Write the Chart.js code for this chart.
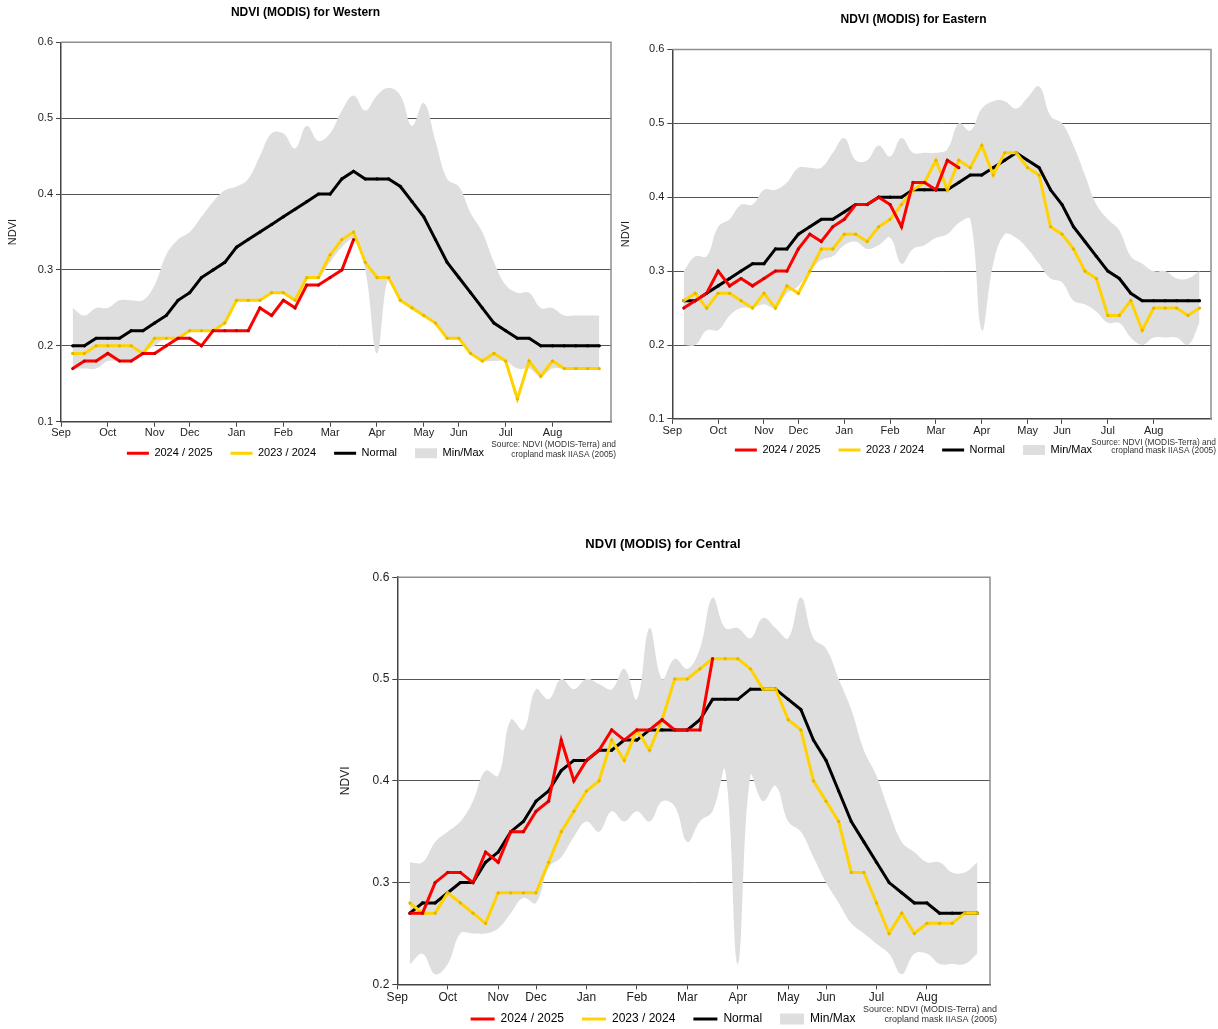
<!DOCTYPE html>
<html>
<head>
<meta charset="utf-8">
<title>NDVI (MODIS)</title>
<script src="https://cdn.jsdelivr.net/npm/chart.js@4.4.1/dist/chart.umd.min.js"></script>
<style>
  html, body { margin: 0; padding: 0; background: #fff; overflow: hidden; }
  #page { position: relative; width: 1218px; height: 1029px; overflow: hidden; }
  canvas { position: absolute; }
</style>
</head>
<body>
<div id="page">
  <canvas id="western" width="620" height="483" style="left:0;top:0"></canvas>
  <canvas id="eastern" width="602" height="480" style="left:616px;top:0"></canvas>
  <canvas id="central" width="664" height="529" style="left:336px;top:520px"></canvas>
</div>
<script>
/* global Chart */

// x axis: 8-day MODIS composites, Sep -> Aug (46 per season)
const monthLabels = ['Sep', 'Oct', 'Nov', 'Dec', 'Jan', 'Feb', 'Mar', 'Apr', 'May', 'Jun', 'Jul', 'Aug'];
const monthTicks = [0, 4, 8, 11, 15, 19, 23, 27, 31, 34, 38, 42];
const seriesLabels = ['2024 / 2025', '2023 / 2024', 'Normal', 'Min/Max'];
const sourceLines = ['Source: NDVI (MODIS-Terra) and', 'cropland mask IIASA (2005)'];

const westernNow = [0.17, 0.18, 0.18, 0.19, 0.18, 0.18, 0.19, 0.19, 0.20, 0.21, 0.21, 0.20, 0.22, 0.22, 0.22, 0.22,
  0.25, 0.24, 0.26, 0.25, 0.28, 0.28, 0.29, 0.30, 0.34];
const westernPrev = [0.19, 0.19, 0.20, 0.20, 0.20, 0.20, 0.19, 0.21, 0.21, 0.21, 0.22, 0.22, 0.22, 0.23, 0.26, 0.26,
  0.26, 0.27, 0.27, 0.26, 0.29, 0.29, 0.32, 0.34, 0.35, 0.31, 0.29, 0.29, 0.26, 0.25, 0.24, 0.23, 0.21, 0.21, 0.19,
  0.18, 0.19, 0.18, 0.13, 0.18, 0.16, 0.18, 0.17, 0.17, 0.17, 0.17];
const westernNormal = [0.20, 0.20, 0.21, 0.21, 0.21, 0.22, 0.22, 0.23, 0.24, 0.26, 0.27, 0.29, 0.30, 0.31, 0.33, 0.34,
  0.35, 0.36, 0.37, 0.38, 0.39, 0.40, 0.40, 0.42, 0.43, 0.42, 0.42, 0.42, 0.41, 0.39, 0.37, 0.34, 0.31, 0.29, 0.27,
  0.25, 0.23, 0.22, 0.21, 0.21, 0.20, 0.20, 0.20, 0.20, 0.20, 0.20];
const westernMax = [0.25, 0.24, 0.25, 0.25, 0.26, 0.26, 0.26, 0.28, 0.32, 0.34, 0.35, 0.37, 0.39, 0.405, 0.41, 0.42,
  0.45, 0.48, 0.48, 0.46, 0.49, 0.47, 0.48, 0.51, 0.53, 0.51, 0.53, 0.54, 0.53, 0.49, 0.52, 0.47, 0.42, 0.41, 0.375,
  0.35, 0.31, 0.28, 0.27, 0.27, 0.25, 0.25, 0.24, 0.24, 0.24, 0.24];
const westernMin = [0.17, 0.17, 0.17, 0.18, 0.18, 0.18, 0.19, 0.20, 0.21, 0.21, 0.22, 0.22, 0.22, 0.23, 0.26, 0.26,
  0.26, 0.27, 0.27, 0.26, 0.29, 0.29, 0.31, 0.33, 0.34, 0.30, 0.19, 0.29, 0.26, 0.25, 0.24, 0.23, 0.21, 0.21, 0.19,
  0.18, 0.18, 0.18, 0.17, 0.17, 0.16, 0.17, 0.17, 0.17, 0.17, 0.17];

const easternNow = [0.25, 0.26, 0.27, 0.30, 0.28, 0.29, 0.28, 0.29, 0.30, 0.30, 0.33, 0.35, 0.34, 0.36, 0.37, 0.39,
  0.39, 0.40, 0.39, 0.36, 0.42, 0.42, 0.41, 0.45, 0.44];
const easternPrev = [0.26, 0.27, 0.25, 0.27, 0.27, 0.26, 0.25, 0.27, 0.25, 0.28, 0.27, 0.30, 0.33, 0.33, 0.35, 0.35,
  0.34, 0.36, 0.37, 0.39, 0.41, 0.42, 0.45, 0.41, 0.45, 0.44, 0.47, 0.43, 0.46, 0.46, 0.44, 0.43, 0.36, 0.35, 0.33,
  0.30, 0.29, 0.24, 0.24, 0.26, 0.22, 0.25, 0.25, 0.25, 0.24, 0.25];
const easternNormal = [0.26, 0.26, 0.27, 0.28, 0.29, 0.30, 0.31, 0.31, 0.33, 0.33, 0.35, 0.36, 0.37, 0.37, 0.38, 0.39,
  0.39, 0.40, 0.40, 0.40, 0.41, 0.41, 0.41, 0.41, 0.42, 0.43, 0.43, 0.44, 0.45, 0.46, 0.45, 0.44, 0.41, 0.39, 0.36,
  0.34, 0.32, 0.30, 0.29, 0.27, 0.26, 0.26, 0.26, 0.26, 0.26, 0.26];
const easternMax = [0.30, 0.32, 0.32, 0.36, 0.37, 0.39, 0.39, 0.41, 0.41, 0.42, 0.44, 0.44, 0.44, 0.46, 0.48, 0.45,
  0.45, 0.47, 0.455, 0.48, 0.46, 0.46, 0.46, 0.465, 0.50, 0.49, 0.52, 0.53, 0.53, 0.52, 0.535, 0.55, 0.51, 0.50, 0.47,
  0.43, 0.39, 0.37, 0.355, 0.32, 0.31, 0.30, 0.30, 0.29, 0.29, 0.30];
const easternMin = [0.20, 0.20, 0.22, 0.22, 0.24, 0.25, 0.25, 0.255, 0.25, 0.27, 0.28, 0.30, 0.315, 0.32, 0.335, 0.34,
  0.33, 0.335, 0.345, 0.31, 0.33, 0.335, 0.345, 0.35, 0.365, 0.37, 0.22, 0.31, 0.35, 0.345, 0.33, 0.31, 0.29, 0.285,
  0.26, 0.255, 0.245, 0.23, 0.23, 0.21, 0.20, 0.21, 0.21, 0.21, 0.20, 0.23];

const centralNow = [0.27, 0.27, 0.30, 0.31, 0.31, 0.30, 0.33, 0.32, 0.35, 0.35, 0.37, 0.38, 0.44, 0.40, 0.42, 0.43,
  0.45, 0.44, 0.45, 0.45, 0.46, 0.45, 0.45, 0.45, 0.52];
const centralPrev = [0.28, 0.27, 0.27, 0.29, 0.28, 0.27, 0.26, 0.29, 0.29, 0.29, 0.29, 0.32, 0.35, 0.37, 0.39, 0.40,
  0.44, 0.42, 0.45, 0.43, 0.46, 0.50, 0.50, 0.51, 0.52, 0.52, 0.52, 0.51, 0.49, 0.49, 0.46, 0.45, 0.40, 0.38, 0.36,
  0.31, 0.31, 0.28, 0.25, 0.27, 0.25, 0.26, 0.26, 0.26, 0.27, 0.27];
const centralNormal = [0.27, 0.28, 0.28, 0.29, 0.30, 0.30, 0.32, 0.33, 0.35, 0.36, 0.38, 0.39, 0.41, 0.42, 0.42, 0.43,
  0.43, 0.44, 0.44, 0.45, 0.45, 0.45, 0.45, 0.46, 0.48, 0.48, 0.48, 0.49, 0.49, 0.49, 0.48, 0.47, 0.44, 0.42, 0.39,
  0.36, 0.34, 0.32, 0.30, 0.29, 0.28, 0.28, 0.27, 0.27, 0.27, 0.27];
const centralMax = [0.32, 0.32, 0.34, 0.35, 0.36, 0.38, 0.41, 0.405, 0.46, 0.45, 0.49, 0.48, 0.50, 0.49, 0.50, 0.495,
  0.49, 0.51, 0.48, 0.55, 0.50, 0.52, 0.51, 0.53, 0.58, 0.55, 0.55, 0.54, 0.56, 0.55, 0.54, 0.58, 0.54, 0.53, 0.50,
  0.47, 0.43, 0.405, 0.37, 0.34, 0.33, 0.32, 0.32, 0.31, 0.31, 0.32];
const centralMin = [0.22, 0.23, 0.21, 0.22, 0.25, 0.25, 0.25, 0.255, 0.27, 0.285, 0.28, 0.315, 0.325, 0.345, 0.36,
  0.35, 0.37, 0.36, 0.37, 0.36, 0.38, 0.375, 0.34, 0.36, 0.37, 0.41, 0.22, 0.405, 0.38, 0.395, 0.36, 0.35, 0.325,
  0.30, 0.28, 0.26, 0.25, 0.24, 0.23, 0.21, 0.23, 0.23, 0.22, 0.22, 0.22, 0.23];

const colors = {
  now: '#ff0000',
  prev: '#ffd200',
  normal: '#000000',
  band: '#dedede',
};

Chart.defaults.font.family = "'Liberation Sans', Arial, sans-serif";
Chart.defaults.color = '#222';

function toPoints(values) {
  return values.map((v, i) => ({ x: i + 1, y: v }));
}

// grey top/right edges of the plot box
const plotFrame = {
  id: 'plotFrame',
  afterDatasetsDraw(chart) {
    const { ctx, chartArea } = chart;
    ctx.save();
    ctx.strokeStyle = '#8e8e8e';
    ctx.lineWidth = 1.5;
    ctx.beginPath();
    ctx.moveTo(chartArea.left, chartArea.top);
    ctx.lineTo(chartArea.right, chartArea.top);
    ctx.lineTo(chartArea.right, chartArea.bottom);
    ctx.stroke();
    ctx.restore();
  },
};

// pull the legend row up close under the month labels
const legendOffset = {
  id: 'legendOffset',
  afterLayout(chart, args, opts) {
    const { legend, chartArea } = chart;
    const h = legend.height;
    legend.top = chartArea.bottom + opts.offset;
    legend.bottom = legend.top + h;
  },
};

// small source note under the right end of the x axis
const sourceNote = {
  id: 'sourceNote',
  afterDraw(chart, args, opts) {
    const { ctx, chartArea } = chart;
    ctx.save();
    ctx.font = `${opts.size}px 'Liberation Sans', Arial, sans-serif`;
    ctx.fillStyle = '#333';
    ctx.textAlign = 'right';
    ctx.textBaseline = 'middle';
    sourceLines.forEach((line, i) => {
      ctx.fillText(line, chartArea.right + opts.dx, chartArea.bottom + opts.dy[i]);
    });
    ctx.restore();
  },
};

function legendItems() {
  return [
    { text: seriesLabels[0], pointStyle: 'line', strokeStyle: colors.now, fillStyle: colors.now, lineWidth: 3, datasetIndex: 0 },
    { text: seriesLabels[1], pointStyle: 'line', strokeStyle: colors.prev, fillStyle: colors.prev, lineWidth: 3, datasetIndex: 1 },
    { text: seriesLabels[2], pointStyle: 'line', strokeStyle: colors.normal, fillStyle: colors.normal, lineWidth: 3, datasetIndex: 2 },
    { text: seriesLabels[3], pointStyle: 'rect', strokeStyle: colors.band, fillStyle: colors.band, lineWidth: 0, datasetIndex: 3 },
  ];
}

function ndviChart(id, cfg) {
  const fs = cfg.fontSize;
  const line = (label, data, color, dot) => ({
    label,
    data: toPoints(data),
    borderColor: color,
    backgroundColor: color,
    borderWidth: 3,
    pointRadius: 1.6,
    pointBorderWidth: 0,
    pointBackgroundColor: dot,
    tension: 0,
    fill: false,
  });

  const config = {
    type: 'line',
    data: {
      datasets: [
        line(seriesLabels[0], cfg.now, colors.now, '#c40000'),
        line(seriesLabels[1], cfg.prev, colors.prev, '#e2b600'),
        line(seriesLabels[2], cfg.normal, colors.normal, '#000'),
        {
          label: 'Max', data: toPoints(cfg.max), borderWidth: 0, pointRadius: 0,
          backgroundColor: colors.band, fill: '+1', tension: 0.4,
        },
        {
          label: 'Min', data: toPoints(cfg.min), borderWidth: 0, pointRadius: 0,
          fill: false, tension: 0.4,
        },
      ],
    },
    options: {
      responsive: false,
      animation: false,
      events: [],
      layout: { padding: cfg.padding },
      plugins: {
        title: {
          display: true,
          text: cfg.title,
          color: '#000',
          font: { size: cfg.titleSize, weight: 'bold' },
          padding: cfg.titlePadding,
        },
        legend: {
          position: 'bottom',
          labels: {
            usePointStyle: true,
            pointStyleWidth: cfg.boxWidth,
            boxHeight: cfg.boxHeight,
            padding: 18,
            color: '#222',
            font: { size: fs },
            generateLabels: legendItems,
          },
        },
        tooltip: { enabled: false },
        legendOffset: { offset: cfg.legendOffset },
        sourceNote: cfg.source,
      },
      scales: {
        x: {
          type: 'linear',
          min: 0,
          max: 47,
          afterBuildTicks: (scale) => { scale.ticks = monthTicks.map((value) => ({ value })); },
          afterFit: (scale) => { scale.height = cfg.xAxisHeight; },
          ticks: {
            autoSkip: false,
            maxRotation: 0,
            padding: cfg.xTickPad,
            font: { size: fs },
            callback: (value) => monthLabels[monthTicks.indexOf(value)],
          },
          grid: { drawOnChartArea: false, tickLength: 5, tickColor: '#444' },
          border: { color: '#444', width: 1.5 },
        },
        y: {
          min: cfg.yMin,
          max: 0.6,
          afterFit: (scale) => { scale.width = cfg.yAxisWidth; },
          ticks: {
            stepSize: 0.1,
            padding: 3,
            font: { size: fs },
            callback: (value) => value.toFixed(1),
          },
          grid: {
            color: (c) => (c.tick && c.tick.value > 0.59 ? 'rgba(0,0,0,0)' : '#555'),
            tickLength: 5,
            tickColor: '#444',
          },
          border: { color: '#444', width: 1.5 },
          title: {
            display: true,
            text: 'NDVI',
            color: '#222',
            font: { size: fs },
            padding: { top: cfg.yTitlePad, bottom: 0 },
          },
        },
      },
    },
    plugins: [plotFrame, legendOffset, sourceNote],
  };

  return new Chart(document.getElementById(id), config);
}

function initialize() {
  ndviChart('western', {
    title: 'NDVI (MODIS) for Western',
    now: westernNow, prev: westernPrev, normal: westernNormal, max: westernMax, min: westernMin,
    yMin: 0.1,
    fontSize: 11, titleSize: 12, boxWidth: 22, boxHeight: 10,
    padding: { left: 0, right: 9, top: 0, bottom: 0.3 },
    titlePadding: { top: 5.1, bottom: 22.8 },
    yAxisWidth: 61, yTitlePad: 6.7, xAxisHeight: 22, xTickPad: 0,
    legendOffset: 8.1,
    source: { size: 8.4, dx: 5, dy: [23.3, 32.6] },
  });
  ndviChart('eastern', {
    title: 'NDVI (MODIS) for Eastern',
    now: easternNow, prev: easternPrev, normal: easternNormal, max: easternMax, min: easternMin,
    yMin: 0.1,
    fontSize: 11, titleSize: 12, boxWidth: 22, boxHeight: 10,
    padding: { left: 0, right: 7, top: 0, bottom: 0.1 },
    titlePadding: { top: 12.1, bottom: 22.9 },
    yAxisWidth: 56.3, yTitlePad: 3.4, xAxisHeight: 22, xTickPad: 0.5,
    legendOffset: 7.6,
    source: { size: 8.4, dx: 5, dy: [23.4, 32.1] },
  });
  ndviChart('central', {
    title: 'NDVI (MODIS) for Central',
    now: centralNow, prev: centralPrev, normal: centralNormal, max: centralMax, min: centralMin,
    yMin: 0.2,
    fontSize: 12, titleSize: 13, boxWidth: 24, boxHeight: 11,
    padding: { left: 0, right: 10, top: 0, bottom: 0.6 },
    titlePadding: { top: 16.5, bottom: 25.1 },
    yAxisWidth: 61.3, yTitlePad: 2.7, xAxisHeight: 24, xTickPad: 1,
    legendOffset: 10.6,
    source: { size: 9, dx: 7, dy: [25.6, 35.6] },
  });
}

document.addEventListener('DOMContentLoaded', initialize);
</script>
</body>
</html>
